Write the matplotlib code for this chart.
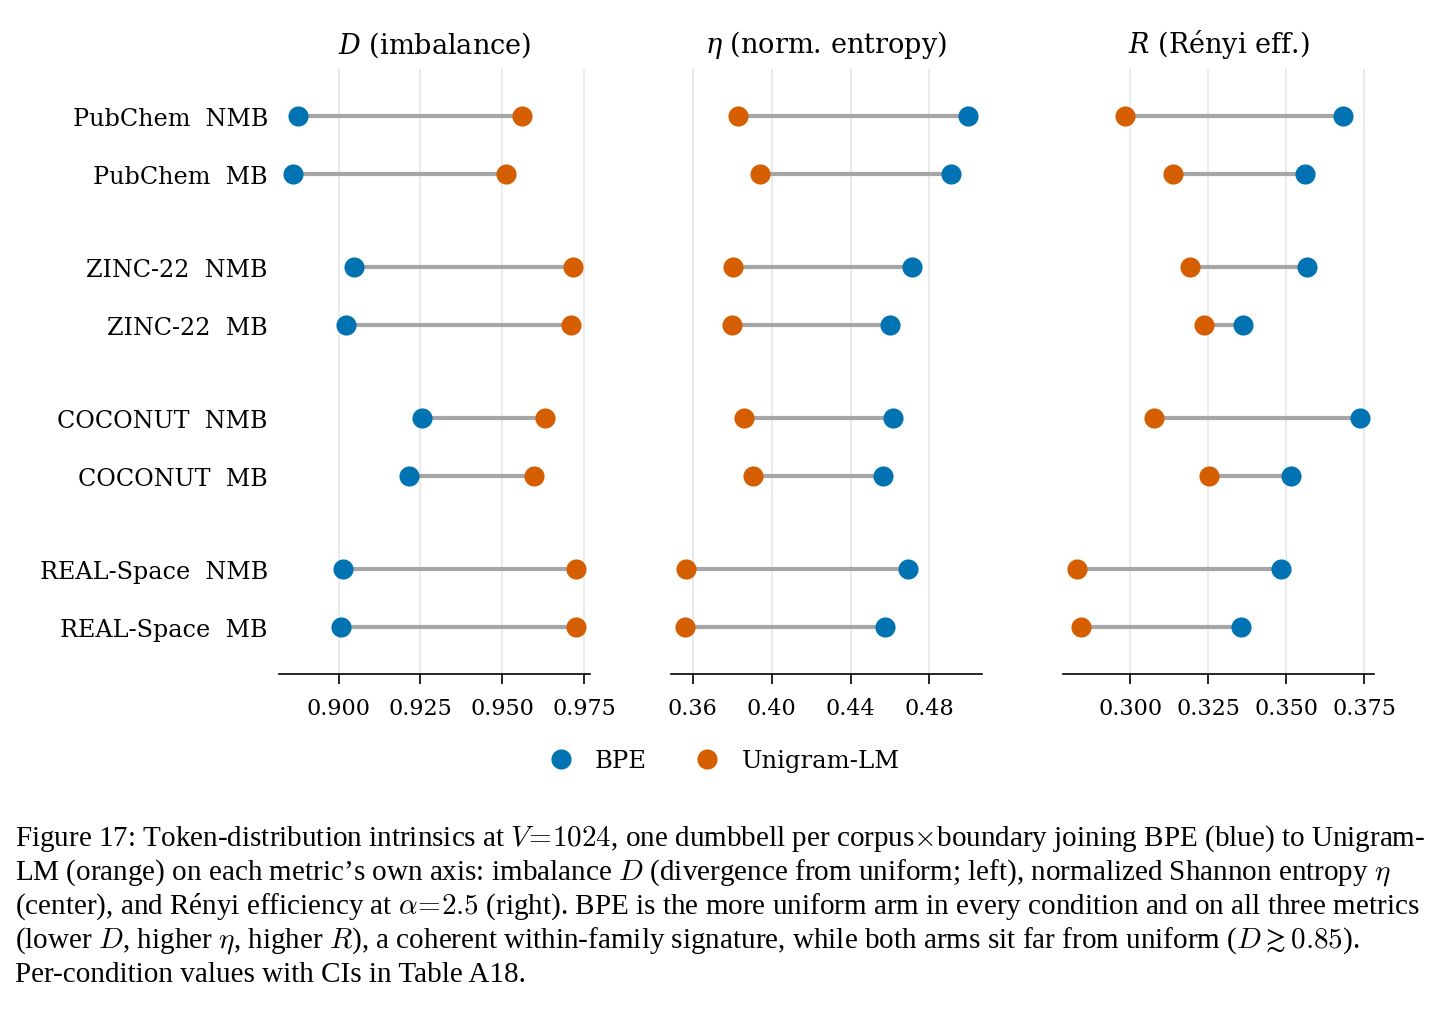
import matplotlib
matplotlib.use("Agg")
import matplotlib.pyplot as plt
import numpy as np
from matplotlib.lines import Line2D
from matplotlib.ticker import FixedLocator, FormatStrFormatter

# conditions, top to bottom
conditions = ["PubChem  NMB", "PubChem  MB", "ZINC-22  NMB", "ZINC-22  MB",
              "COCONUT  NMB", "COCONUT  MB", "REAL-Space  NMB", "REAL-Space  MB"]
row_pos = [0, 1, 2.6, 3.6, 5.2, 6.2, 7.8, 8.8]

# D (imbalance)
d_bpe = [0.8876, 0.8861, 0.9048, 0.9024, 0.9254, 0.9214, 0.9014, 0.9008]
d_uni = [0.9559, 0.9510, 0.9716, 0.9710, 0.9630, 0.9596, 0.9725, 0.9725]
# eta (normalized entropy)
eta_bpe = [0.4995, 0.4908, 0.4710, 0.4598, 0.4613, 0.4567, 0.4689, 0.4577]
eta_uni = [0.3830, 0.3942, 0.3805, 0.3800, 0.3861, 0.3906, 0.3566, 0.3561]
# R (Renyi efficiency)
r_bpe = [0.3682, 0.3559, 0.3566, 0.3360, 0.3736, 0.3514, 0.3482, 0.3354]
r_uni = [0.2984, 0.3138, 0.3193, 0.3238, 0.3077, 0.3251, 0.2830, 0.2843]

titles = ["$D$ (imbalance)", r"$\eta$ (norm. entropy)", "$R$ (Rényi eff.)"]
ticks = [[0.900, 0.925, 0.950, 0.975], [0.36, 0.40, 0.44, 0.48], [0.300, 0.325, 0.350, 0.375]]
tick_fmt = ["%.3f", "%.2f", "%.3f"]

BLUE = "#0173B2"
ORANGE = "#D55E00"

plt.rcParams["font.family"] = "DejaVu Serif"
plt.rcParams["mathtext.fontset"] = "dejavuserif"

W, H = 1441, 1012
fig = plt.figure(figsize=(W / 100, H / 100), dpi=100)

panels = [(d_bpe, d_uni), (eta_bpe, eta_uni), (r_bpe, r_uni)]
lefts = [279, 671, 1063]
ax_w, ax_top, ax_bot = 311, 70, 675

for i, (bpe, uni) in enumerate(panels):
    ax = fig.add_axes([lefts[i] / W, 1 - ax_bot / H, ax_w / W, (ax_bot - ax_top) / H])
    for y, b, u in zip(row_pos, bpe, uni):
        ax.plot([b, u], [y, y], color="#a6a6a6", lw=3, zorder=2, solid_capstyle="butt")
    ax.scatter(bpe, row_pos, s=210, color=BLUE, zorder=3, linewidths=0)
    ax.scatter(uni, row_pos, s=210, color=ORANGE, zorder=3, linewidths=0)
    ax.set_ylim(9.6, -0.8)
    ax.xaxis.set_major_locator(FixedLocator(ticks[i]))
    ax.xaxis.set_major_formatter(FormatStrFormatter(tick_fmt[i]))
    ax.grid(axis="x", color="#e6e6e6", lw=1.2, zorder=0)
    ax.set_axisbelow(True)
    for s in ["top", "right", "left"]:
        ax.spines[s].set_visible(False)
    ax.spines["bottom"].set_linewidth(1.2)
    ax.tick_params(axis="x", labelsize=16, length=7, width=1.2, pad=9.5)
    ax.set_title(titles[i], fontsize=19.5, pad=12)
    if i == 0:
        ax.set_yticks(row_pos)
        ax.set_yticklabels(conditions, fontsize=17.2)
        ax.tick_params(axis="y", length=0, pad=8)
    else:
        ax.set_yticks([])

handles = [Line2D([], [], ls="", marker="o", ms=14.5, color=BLUE, markeredgewidth=0),
           Line2D([], [], ls="", marker="o", ms=14.5, color=ORANGE, markeredgewidth=0)]
fig.legend(handles, ["BPE", "Unigram-LM"], loc="center", bbox_to_anchor=(0.5024, 1 - 762 / H),
           ncol=2, frameon=False, fontsize=17.5, handlelength=1.0, handletextpad=0.9,
           columnspacing=2.0)

caption = [
    r"Figure 17: Token-distribution intrinsics at $V\!=\!1024$, one dumbbell per corpus$\times$boundary joining BPE (blue) to Unigram-",
    r"LM (orange) on each metric’s own axis: imbalance $D$ (divergence from uniform; left), normalized Shannon entropy $\eta$",
    r"(center), and Rényi efficiency at $\alpha\!=\!2.5$ (right). BPE is the more uniform arm in every condition and on all three metrics",
    r"(lower $D$, higher $\eta$, higher $R$), a coherent within-family signature, while both arms sit far from uniform ($D \gtrsim 0.85$).",
    r"Per-condition values with CIs in Table A18.",
]
baselines = [846, 880, 914, 948, 982]
for line, yb in zip(caption, baselines):
    fig.text(15 / W, 1 - yb / H, line, fontsize=21, family="Liberation Serif",
             math_fontfamily="cm", va="baseline", ha="left")

fig.savefig("out.png", dpi=100)
